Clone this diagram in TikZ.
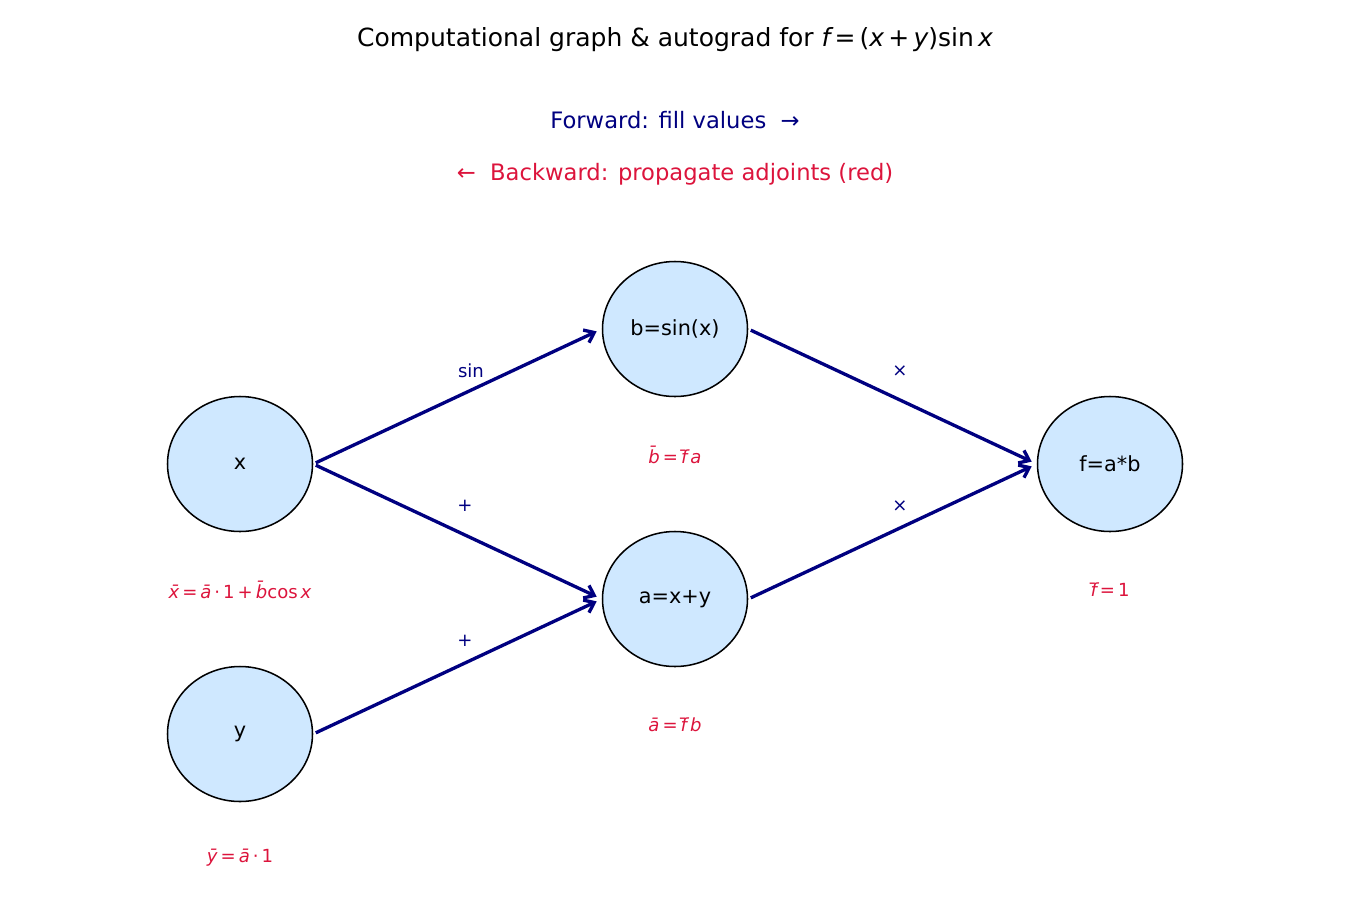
\documentclass[tikz,border=0pt]{standalone}
\usepackage{fontspec}
\setmainfont{DejaVu Sans}
\usetikzlibrary{arrows.meta,shapes.geometric}
\definecolor{nodefill}{HTML}{CFE8FF}
\definecolor{fwd}{HTML}{000080}
\definecolor{bwd}{HTML}{DC143C}
\tikzset{
  valnode/.style={ellipse, draw=black, line width=1.1pt, fill=nodefill, minimum width=145*0.72pt, minimum height=135*0.72pt, inner sep=0pt, font=\fontsize{15}{18}\selectfont},
  edgearrow/.style={draw=fwd, line width=2.4pt, -{Straight Barb[length=6.5pt,width=10pt,line width=2.4pt]}, shorten >=4pt, shorten <=2pt},
  edgelabel/.style={text=fwd, font=\fontsize{13}{15}\selectfont},
  adjlabel/.style={text=bwd, font=\fontsize{13}{15}\selectfont},
}
\newcommand{\iv}[1]{{\itshape #1}}
\newcommand{\bv}[1]{{\itshape\=#1}}
\begin{document}
\begin{tikzpicture}[x=0.72pt,y=-0.72pt]
\useasboundingbox (0,0) rectangle (1350,900);
\node[font=\fontsize{18}{21}\selectfont] (title) at (675,40) {Computational graph \& autograd for \iv{f}\,=\,(\iv{x}\,+\,\iv{y})sin\,\iv{x}};
\node[text=fwd, font=\fontsize{16.3}{19}\selectfont] (fwdtxt) at (675,120) {Forward: fill values\ \ →};
\node[text=bwd, font=\fontsize{16.3}{19}\selectfont] (bwdtxt) at (675,174) {←\ \ Backward: propagate adjoints (red)};

\node[valnode] (x) at (240,464) {x};
\node[valnode] (y) at (240,734) {y};
\node[valnode] (b) at (675,329) {b=sin(x)};
\node[valnode] (a) at (675,599) {a=x+y};
\node[valnode] (f) at (1110,464) {f=a*b};

\draw[edgearrow] (x.east) -- (b.west);
\draw[edgearrow] (x.east) -- (a.west);
\draw[edgearrow] (y.east) -- (a.west);
\draw[edgearrow] (b.east) -- (f.west);
\draw[edgearrow] (a.east) -- (f.west);

\node[edgelabel] (l1) at (471,371) {sin};
\node[edgelabel] (l2) at (465,506) {+};
\node[edgelabel] (l3) at (465,641) {+};
\node[edgelabel] (l4) at (900,371) {×};
\node[edgelabel] (l5) at (900,506) {×};

\node[adjlabel] (ax) at (240,590) {\bv{x}\,=\,\bv{a}\,·\,1\,+\,\bv{b}cos\,\iv{x}};
\node[adjlabel] (ab) at (675,455) {\bv{b}\,=\,\={\iv{f}}\,\iv{a}};
\node[adjlabel] (aa) at (675,725) {\bv{a}\,=\,\={\iv{f}}\,\iv{b}};
\node[adjlabel] (af) at (1110,590) {\={\iv{f}}\,=\,1};
\node[adjlabel] (ay) at (240,858) {\bv{y}\,=\,\bv{a}\,·\,1};
\end{tikzpicture}
\end{document}
